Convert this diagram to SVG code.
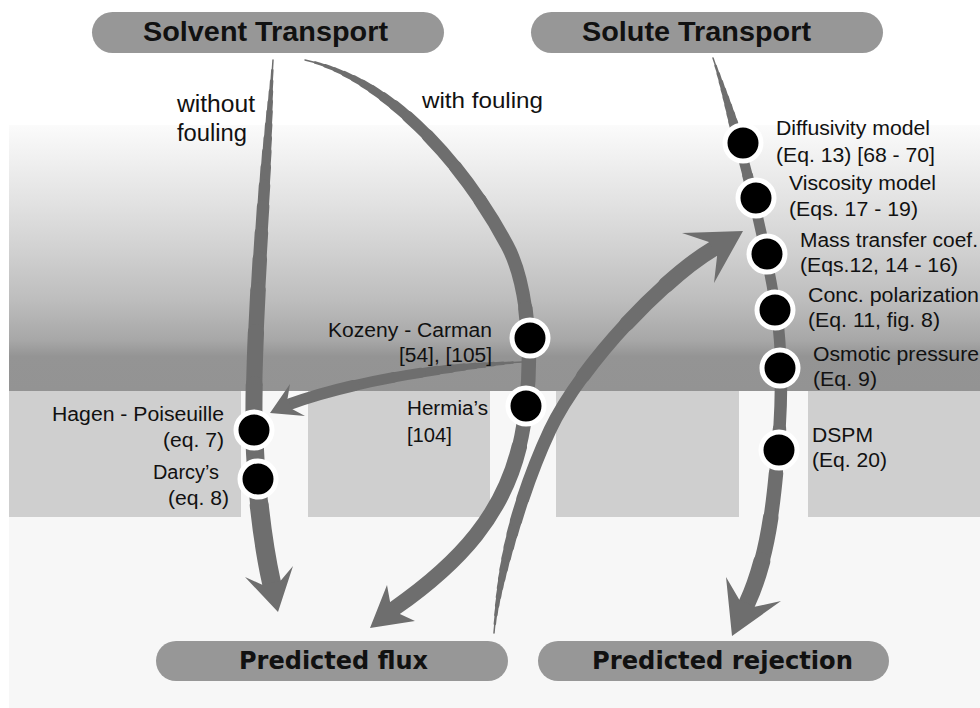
<svg xmlns="http://www.w3.org/2000/svg" width="980" height="708" viewBox="0 0 980 708">
<style>
.pill{fill:#979797}
.ttl{font-family:"Liberation Sans",Arial,sans-serif;font-weight:bold;font-size:28px;fill:#111}
.ttl2{font-family:"DejaVu Sans",Verdana,sans-serif;font-weight:bold;font-size:24.5px;fill:#111}
.lbl{font-family:"Liberation Sans",Arial,sans-serif;font-size:19.5px;fill:#111}
.big{font-size:23px}
.dot{fill:#000;stroke:#fff;stroke-width:5}
.s{fill:none;stroke:#6e6e6e;stroke-linecap:round}
.head{fill:#6e6e6e}
</style>
<defs>
<linearGradient id="bandGrad" x1="0" y1="0" x2="0" y2="1">
<stop offset="0" stop-color="#fbfbfb"/>
<stop offset="0.28" stop-color="#e3e3e3"/>
<stop offset="0.47" stop-color="#d1d1d1"/>
<stop offset="0.66" stop-color="#bdbdbd"/>
<stop offset="0.81" stop-color="#a7a7a7"/>
<stop offset="0.87" stop-color="#949494"/>
<stop offset="1" stop-color="#939393"/>
</linearGradient>
<path id="pA" pathLength="100" d="M273,60 C266,170 253,330 254,420 C254.5,480 262.8,543.7 271.5,582.7"/>
<path id="pB" pathLength="100" d="M305,60 C395,80 470,175 507,245 C527,282 533,350 526,405 C518,495 475,552 395,608"/>
<path id="pC" pathLength="100" d="M494,633 C499.8,563 524.5,484.3 550,430 C579.8,366.6 661.6,279.8 713,249"/>
<path id="pD" pathLength="100" d="M522,362 C470,365 368,376 290,404"/>
<path id="pE" pathLength="100" d="M713,58 C738.8,133.7 763.1,230 776,309 C783.2,353.4 781.6,405.1 778,450 C773.6,504.8 767.8,557.9 747,603.3"/>
</defs>

<g id="background">
<rect x="0" y="0" width="980" height="708" fill="#ffffff"/>
<rect x="9" y="125" width="971" height="266" fill="url(#bandGrad)"/>
<rect x="9" y="391" width="971" height="317" fill="#f7f7f7"/>
<rect x="9" y="391" width="232" height="126" fill="#cfcfcf"/>
<rect x="308" y="391" width="182" height="126" fill="#cfcfcf"/>
<rect x="556" y="391" width="183" height="126" fill="#cfcfcf"/>
<rect x="808" y="391" width="172" height="126" fill="#cfcfcf"/>
</g>

<g id="connectors">
<g id="arrow-without-fouling">
<use href="#pA" class="s" stroke-width="1.5" stroke-dasharray="2 300" stroke-dashoffset="0"/>
<use href="#pA" class="s" stroke-width="2.5" stroke-dasharray="2 300" stroke-dashoffset="-2"/>
<use href="#pA" class="s" stroke-width="3.5" stroke-dasharray="2 300" stroke-dashoffset="-4"/>
<use href="#pA" class="s" stroke-width="4.5" stroke-dasharray="2 300" stroke-dashoffset="-6"/>
<use href="#pA" class="s" stroke-width="5.5" stroke-dasharray="2 300" stroke-dashoffset="-8"/>
<use href="#pA" class="s" stroke-width="6.5" stroke-dasharray="2.5 300" stroke-dashoffset="-10"/>
<use href="#pA" class="s" stroke-width="7.5" stroke-dasharray="2.5 300" stroke-dashoffset="-12.5"/>
<use href="#pA" class="s" stroke-width="8.5" stroke-dasharray="2.5 300" stroke-dashoffset="-15"/>
<use href="#pA" class="s" stroke-width="9.5" stroke-dasharray="3 300" stroke-dashoffset="-17.5"/>
<use href="#pA" class="s" stroke-width="10.5" stroke-dasharray="3.5 300" stroke-dashoffset="-20.5"/>
<use href="#pA" class="s" stroke-width="11.5" stroke-dasharray="4 300" stroke-dashoffset="-24"/>
<use href="#pA" class="s" stroke-width="12.5" stroke-dasharray="5 300" stroke-dashoffset="-28"/>
<use href="#pA" class="s" stroke-width="13.5" stroke-dasharray="5 300" stroke-dashoffset="-33"/>
<use href="#pA" class="s" stroke-width="14.5" stroke-dasharray="6 300" stroke-dashoffset="-38"/>
<use href="#pA" class="s" stroke-width="15.5" stroke-dasharray="8 300" stroke-dashoffset="-44"/>
<use href="#pA" class="s" stroke-width="16.2" stroke-dasharray="10 300" stroke-dashoffset="-52"/>
<use href="#pA" class="s" stroke-width="17" stroke-dasharray="10 300" stroke-dashoffset="-62"/>
<use href="#pA" class="s" stroke-width="18" stroke-dasharray="13 300" stroke-dashoffset="-72"/>
<use href="#pA" class="s" stroke-width="19" stroke-dasharray="15 300" stroke-dashoffset="-85"/>
<polygon class="head" points="262.2,584.8 245,577 278,612 293,566 280.8,580.6"/>
</g>
<g id="arrow-with-fouling">
<use href="#pB" class="s" stroke-width="1.5" stroke-dasharray="1.5 300" stroke-dashoffset="0"/>
<use href="#pB" class="s" stroke-width="2.5" stroke-dasharray="1.5 300" stroke-dashoffset="-1.5"/>
<use href="#pB" class="s" stroke-width="3.5" stroke-dasharray="1.5 300" stroke-dashoffset="-3"/>
<use href="#pB" class="s" stroke-width="4.5" stroke-dasharray="1.5 300" stroke-dashoffset="-4.5"/>
<use href="#pB" class="s" stroke-width="5.5" stroke-dasharray="1.5 300" stroke-dashoffset="-6"/>
<use href="#pB" class="s" stroke-width="6.5" stroke-dasharray="1.5 300" stroke-dashoffset="-7.5"/>
<use href="#pB" class="s" stroke-width="7.5" stroke-dasharray="1.5 300" stroke-dashoffset="-9"/>
<use href="#pB" class="s" stroke-width="8.5" stroke-dasharray="2 300" stroke-dashoffset="-10.5"/>
<use href="#pB" class="s" stroke-width="9.5" stroke-dasharray="2 300" stroke-dashoffset="-12.5"/>
<use href="#pB" class="s" stroke-width="10.5" stroke-dasharray="2.5 300" stroke-dashoffset="-14.5"/>
<use href="#pB" class="s" stroke-width="11.5" stroke-dasharray="4 300" stroke-dashoffset="-17"/>
<use href="#pB" class="s" stroke-width="12.5" stroke-dasharray="6 300" stroke-dashoffset="-21"/>
<use href="#pB" class="s" stroke-width="13" stroke-dasharray="6 300" stroke-dashoffset="-27"/>
<use href="#pB" class="s" stroke-width="13.5" stroke-dasharray="17 300" stroke-dashoffset="-33"/>
<use href="#pB" class="s" stroke-width="14.5" stroke-dasharray="20 300" stroke-dashoffset="-50"/>
<use href="#pB" class="s" stroke-width="15.5" stroke-dasharray="30 300" stroke-dashoffset="-70"/>
<polygon class="head" points="390.1,602 387,585 370,628 415,621 399.9,614"/>
</g>
<g id="arrow-kozeny-branch">
<use href="#pD" class="s" stroke-width="1.5" stroke-dasharray="4 300" stroke-dashoffset="0"/>
<use href="#pD" class="s" stroke-width="2.5" stroke-dasharray="4 300" stroke-dashoffset="-4"/>
<use href="#pD" class="s" stroke-width="3.5" stroke-dasharray="4 300" stroke-dashoffset="-8"/>
<use href="#pD" class="s" stroke-width="4.5" stroke-dasharray="4 300" stroke-dashoffset="-12"/>
<use href="#pD" class="s" stroke-width="5.5" stroke-dasharray="4 300" stroke-dashoffset="-16"/>
<use href="#pD" class="s" stroke-width="6.5" stroke-dasharray="5 300" stroke-dashoffset="-20"/>
<use href="#pD" class="s" stroke-width="7.5" stroke-dasharray="5 300" stroke-dashoffset="-25"/>
<use href="#pD" class="s" stroke-width="8.5" stroke-dasharray="6 300" stroke-dashoffset="-30"/>
<use href="#pD" class="s" stroke-width="9.3" stroke-dasharray="7 300" stroke-dashoffset="-36"/>
<use href="#pD" class="s" stroke-width="10" stroke-dasharray="12 300" stroke-dashoffset="-43"/>
<use href="#pD" class="s" stroke-width="10.8" stroke-dasharray="17 300" stroke-dashoffset="-55"/>
<use href="#pD" class="s" stroke-width="11.5" stroke-dasharray="28 300" stroke-dashoffset="-72"/>
<polygon class="head" points="287.5,398.8 290,384 270,413 305,416 292.5,409.2"/>
</g>
<g id="arrow-flux-to-solute">
<use href="#pC" class="s" stroke-width="1.5" stroke-dasharray="2 300" stroke-dashoffset="0"/>
<use href="#pC" class="s" stroke-width="2.5" stroke-dasharray="2 300" stroke-dashoffset="-2"/>
<use href="#pC" class="s" stroke-width="3.5" stroke-dasharray="2 300" stroke-dashoffset="-4"/>
<use href="#pC" class="s" stroke-width="4.5" stroke-dasharray="2 300" stroke-dashoffset="-6"/>
<use href="#pC" class="s" stroke-width="5.5" stroke-dasharray="2 300" stroke-dashoffset="-8"/>
<use href="#pC" class="s" stroke-width="6.5" stroke-dasharray="2 300" stroke-dashoffset="-10"/>
<use href="#pC" class="s" stroke-width="7.5" stroke-dasharray="2 300" stroke-dashoffset="-12"/>
<use href="#pC" class="s" stroke-width="8.5" stroke-dasharray="2.5 300" stroke-dashoffset="-14"/>
<use href="#pC" class="s" stroke-width="9.5" stroke-dasharray="2.5 300" stroke-dashoffset="-16.5"/>
<use href="#pC" class="s" stroke-width="10.5" stroke-dasharray="3 300" stroke-dashoffset="-19"/>
<use href="#pC" class="s" stroke-width="11.5" stroke-dasharray="3 300" stroke-dashoffset="-22"/>
<use href="#pC" class="s" stroke-width="12.3" stroke-dasharray="5 300" stroke-dashoffset="-25"/>
<use href="#pC" class="s" stroke-width="13" stroke-dasharray="30 300" stroke-dashoffset="-30"/>
<use href="#pC" class="s" stroke-width="14" stroke-dasharray="15 300" stroke-dashoffset="-60"/>
<use href="#pC" class="s" stroke-width="15" stroke-dasharray="12 300" stroke-dashoffset="-75"/>
<use href="#pC" class="s" stroke-width="16" stroke-dasharray="13 300" stroke-dashoffset="-87"/>
<polygon class="head" points="708.9,242.1 682,233 743,231 714,283 717.1,255.9"/>
</g>
<g id="arrow-solute">
<use href="#pE" class="s" stroke-width="1.5" stroke-dasharray="1.5 300" stroke-dashoffset="0"/>
<use href="#pE" class="s" stroke-width="2.5" stroke-dasharray="1.5 300" stroke-dashoffset="-1.5"/>
<use href="#pE" class="s" stroke-width="3.5" stroke-dasharray="1.5 300" stroke-dashoffset="-3"/>
<use href="#pE" class="s" stroke-width="4.5" stroke-dasharray="1.5 300" stroke-dashoffset="-4.5"/>
<use href="#pE" class="s" stroke-width="5.5" stroke-dasharray="1.5 300" stroke-dashoffset="-6"/>
<use href="#pE" class="s" stroke-width="6.5" stroke-dasharray="1.5 300" stroke-dashoffset="-7.5"/>
<use href="#pE" class="s" stroke-width="7.5" stroke-dasharray="1.5 300" stroke-dashoffset="-9"/>
<use href="#pE" class="s" stroke-width="8.5" stroke-dasharray="1.5 300" stroke-dashoffset="-10.5"/>
<use href="#pE" class="s" stroke-width="9.5" stroke-dasharray="2 300" stroke-dashoffset="-12"/>
<use href="#pE" class="s" stroke-width="10.2" stroke-dasharray="8 300" stroke-dashoffset="-14"/>
<use href="#pE" class="s" stroke-width="10.7" stroke-dasharray="28 300" stroke-dashoffset="-22"/>
<use href="#pE" class="s" stroke-width="11.5" stroke-dasharray="10 300" stroke-dashoffset="-50"/>
<use href="#pE" class="s" stroke-width="12.5" stroke-dasharray="8 300" stroke-dashoffset="-60"/>
<use href="#pE" class="s" stroke-width="13.5" stroke-dasharray="8 300" stroke-dashoffset="-68"/>
<use href="#pE" class="s" stroke-width="14.5" stroke-dasharray="8 300" stroke-dashoffset="-76"/>
<use href="#pE" class="s" stroke-width="15.5" stroke-dasharray="8 300" stroke-dashoffset="-84"/>
<use href="#pE" class="s" stroke-width="17" stroke-dasharray="8 300" stroke-dashoffset="-92"/>
<polygon class="head" points="739.3,599.8 726,577 732,636 781,601 754.7,606.8"/>
</g>
</g>

<g id="node-solvent-transport">
<rect class="pill" x="92" y="12" width="352" height="41" rx="20.5"/>
<text class="ttl" x="143" y="41" textLength="245" lengthAdjust="spacingAndGlyphs">Solvent Transport</text>
</g>
<g id="node-solute-transport">
<rect class="pill" x="531" y="12" width="352" height="41" rx="20.5"/>
<text class="ttl" x="582" y="41" textLength="229" lengthAdjust="spacingAndGlyphs">Solute Transport</text>
</g>
<g id="node-predicted-flux">
<rect class="pill" x="156" y="641" width="352" height="40" rx="20"/>
<text class="ttl2" x="239" y="669" textLength="189" lengthAdjust="spacingAndGlyphs">Predicted flux</text>
</g>
<g id="node-predicted-rejection">
<rect class="pill" x="538" y="641" width="351" height="40" rx="20"/>
<text class="ttl2" x="592" y="669" textLength="261" lengthAdjust="spacingAndGlyphs">Predicted rejection</text>
</g>

<g id="label-without-fouling">
<text class="lbl big" x="177" y="112" textLength="78" lengthAdjust="spacingAndGlyphs">without</text>
<text class="lbl big" x="177" y="141" textLength="70" lengthAdjust="spacingAndGlyphs">fouling</text>
</g>
<g id="label-with-fouling">
<text class="lbl" style="font-size:22px" x="422" y="108" textLength="121" lengthAdjust="spacingAndGlyphs">with fouling</text>
</g>

<g id="node-hagen-poiseuille">
<circle class="dot" cx="254" cy="430" r="18"/>
<text class="lbl" x="52" y="421" textLength="172" lengthAdjust="spacingAndGlyphs">Hagen - Poiseuille</text>
<text class="lbl" x="163" y="447" textLength="61" lengthAdjust="spacingAndGlyphs">(eq. 7)</text>
</g>
<g id="node-darcy">
<circle class="dot" cx="258" cy="479" r="18"/>
<text class="lbl" x="153" y="479" textLength="66" lengthAdjust="spacingAndGlyphs">Darcy’s</text>
<text class="lbl" x="168" y="505" textLength="61" lengthAdjust="spacingAndGlyphs">(eq. 8)</text>
</g>
<g id="node-kozeny-carman">
<circle class="dot" cx="530" cy="338" r="18"/>
<text class="lbl" x="328" y="337" textLength="164" lengthAdjust="spacingAndGlyphs">Kozeny - Carman</text>
<text class="lbl" x="399" y="362" textLength="93" lengthAdjust="spacingAndGlyphs">[54], [105]</text>
</g>
<g id="node-hermia">
<circle class="dot" cx="526" cy="406" r="18"/>
<text class="lbl" x="407" y="415" textLength="81" lengthAdjust="spacingAndGlyphs">Hermia’s</text>
<text class="lbl" x="407" y="442" textLength="45" lengthAdjust="spacingAndGlyphs">[104]</text>
</g>

<g id="node-diffusivity">
<circle class="dot" cx="743" cy="143" r="18"/>
<text class="lbl" x="776" y="135" textLength="154" lengthAdjust="spacingAndGlyphs">Diffusivity model</text>
<text class="lbl" x="776" y="162" textLength="159" lengthAdjust="spacingAndGlyphs">(Eq. 13) [68 - 70]</text>
</g>
<g id="node-viscosity">
<circle class="dot" cx="756" cy="198" r="18"/>
<text class="lbl" x="789" y="190" textLength="147" lengthAdjust="spacingAndGlyphs">Viscosity model</text>
<text class="lbl" x="789" y="216" textLength="129" lengthAdjust="spacingAndGlyphs">(Eqs. 17 - 19)</text>
</g>
<g id="node-mass-transfer">
<circle class="dot" cx="767" cy="254" r="18"/>
<text class="lbl" x="800" y="247" textLength="178" lengthAdjust="spacingAndGlyphs">Mass transfer coef.</text>
<text class="lbl" x="800" y="272" textLength="158" lengthAdjust="spacingAndGlyphs">(Eqs.12, 14 - 16)</text>
</g>
<g id="node-conc-polarization">
<circle class="dot" cx="775" cy="310" r="18"/>
<text class="lbl" x="808" y="302" textLength="171" lengthAdjust="spacingAndGlyphs">Conc. polarization</text>
<text class="lbl" x="808" y="327" textLength="132" lengthAdjust="spacingAndGlyphs">(Eq. 11, fig. 8)</text>
</g>
<g id="node-osmotic-pressure">
<circle class="dot" cx="780" cy="368" r="18"/>
<text class="lbl" x="813" y="361" textLength="166" lengthAdjust="spacingAndGlyphs">Osmotic pressure</text>
<text class="lbl" x="813" y="386" textLength="64" lengthAdjust="spacingAndGlyphs">(Eq. 9)</text>
</g>
<g id="node-dspm">
<circle class="dot" cx="779" cy="450" r="18"/>
<text class="lbl" x="812" y="442" textLength="61" lengthAdjust="spacingAndGlyphs">DSPM</text>
<text class="lbl" x="812" y="467" textLength="75" lengthAdjust="spacingAndGlyphs">(Eq. 20)</text>
</g>
</svg>
